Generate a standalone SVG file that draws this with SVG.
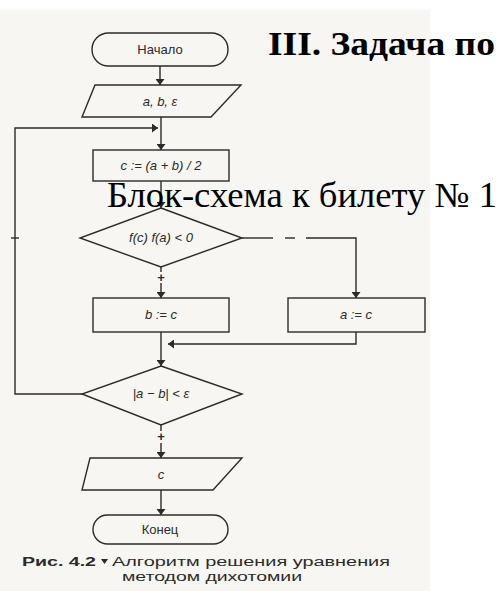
<svg xmlns="http://www.w3.org/2000/svg" width="503" height="591" viewBox="0 0 503 591">
<style>
.ln{fill:none;stroke:#2b2b2b;stroke-width:1.4}
.sh{fill:none;stroke:#2b2b2b;stroke-width:1.4}
.t{font-family:"Liberation Sans",Arial,sans-serif;font-size:13px;fill:#2b2b2b;text-anchor:middle}
.m{font-style:italic}
.ttl{font-family:"Liberation Serif","Times New Roman",serif;fill:#000}
.cap{font-family:"Liberation Sans",Arial,sans-serif;font-size:12px;fill:#2b2b2b}
</style>
<defs>
<marker id="ah" viewBox="0 0 10 10" refX="10" refY="5" markerWidth="6" markerHeight="9" markerUnits="userSpaceOnUse" orient="auto" preserveAspectRatio="none">
<path d="M0,0 L10,5 L0,10 Z" fill="#2b2b2b"/>
</marker>
</defs>
<rect x="0" y="0" width="503" height="591" fill="#ffffff"/>
<rect x="0" y="10" width="430" height="581" fill="#f7f6f2"/>

<g id="connectors">
<line class="ln" x1="160" y1="66" x2="160" y2="85" marker-end="url(#ah)"/>
<line class="ln" x1="161" y1="117" x2="161" y2="150" marker-end="url(#ah)"/>
<polyline class="ln" points="82,394 15,394 15,128 158,128" marker-end="url(#ah)"/>
<line class="ln" x1="11" y1="238" x2="19" y2="238"/>
<line class="ln" x1="161" y1="181" x2="161" y2="208" marker-end="url(#ah)"/>
<line class="ln" x1="161" y1="267" x2="161" y2="272"/>
<line class="ln" x1="161" y1="283" x2="161" y2="298" marker-end="url(#ah)"/>
<line class="ln" x1="242" y1="238" x2="273" y2="238"/>
<line class="ln" x1="285" y1="238" x2="295" y2="238"/>
<polyline class="ln" points="306,238 356,238 356,298" marker-end="url(#ah)"/>
<line class="ln" x1="161" y1="332" x2="161" y2="366" marker-end="url(#ah)"/>
<polyline class="ln" points="356,332 356,344 168,344" marker-end="url(#ah)"/>
<line class="ln" x1="161" y1="425" x2="161" y2="431"/>
<line class="ln" x1="161" y1="443" x2="161" y2="458" marker-end="url(#ah)"/>
<line class="ln" x1="161" y1="490" x2="161" y2="515" marker-end="url(#ah)"/>
<text class="t" x="161" y="282" font-size="12" font-weight="bold">+</text>
<text class="t" x="161" y="441" font-size="12" font-weight="bold">+</text>
</g>

<g id="start">
<rect class="sh" x="92" y="33" width="136" height="33" rx="16.5"/>
<text class="t" x="160" y="54">Начало</text>
</g>
<g id="input">
<polygon class="sh" points="95,85 241,85 211,117 82,117"/>
<text class="t m" x="160" y="106">a, b, ε</text>
</g>
<g id="calc-c">
<rect class="sh" x="93" y="150" width="136" height="31"/>
<text class="t m" x="161" y="170">c := (a + b) / 2</text>
</g>
<g id="cond1">
<polygon class="sh" points="161,208 242,238 161,267 80,238"/>
<text class="t m" x="161" y="242">f(c) f(a) &lt; 0</text>
</g>
<g id="b-assign">
<rect class="sh" x="93" y="298" width="136" height="34"/>
<text class="t m" x="161" y="319">b := c</text>
</g>
<g id="a-assign">
<rect class="sh" x="288" y="298" width="137" height="34"/>
<text class="t m" x="356" y="319">a := c</text>
</g>
<g id="cond2">
<polygon class="sh" points="161,366 242,394 161,425 82,394"/>
<text class="t m" x="161" y="398">|a − b| &lt; ε</text>
</g>
<g id="output">
<polygon class="sh" points="90,458 242,458 213,490 82,490"/>
<text class="t m" x="161" y="479">c</text>
</g>
<g id="end">
<rect class="sh" x="93" y="515" width="135" height="29" rx="14.5"/>
<text class="t" x="160" y="534">Конец</text>
</g>

<g id="caption">
<text class="cap" x="22" y="566" font-weight="bold" textLength="74" lengthAdjust="spacingAndGlyphs">Рис. 4.2</text>
<path d="M101,559 L108,559 L104.5,564 Z" fill="#2b2b2b"/>
<text class="cap" x="112" y="566" textLength="278" lengthAdjust="spacingAndGlyphs">Алгоритм решения уравнения</text>
<text class="cap" x="122" y="581" textLength="180" lengthAdjust="spacingAndGlyphs">методом дихотомии</text>
</g>

<g id="titles">
<text class="ttl" x="268" y="55" font-size="34" font-weight="bold" textLength="227" lengthAdjust="spacingAndGlyphs">III. Задача по</text>
<text class="ttl" x="107" y="207" font-size="35" textLength="390" lengthAdjust="spacingAndGlyphs">Блок-схема к билету № 1</text>
</g>
</svg>
